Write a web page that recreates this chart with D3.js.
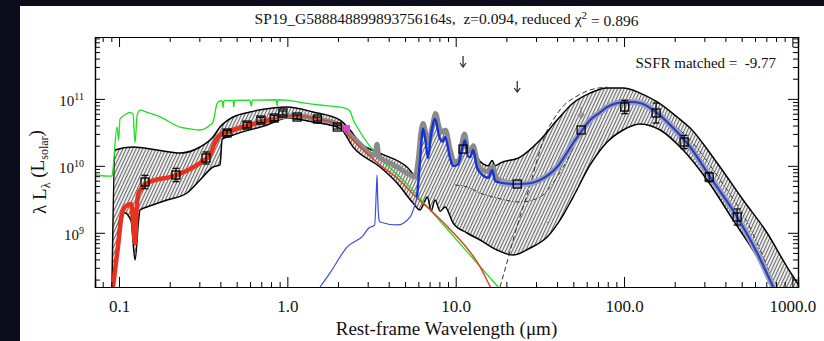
<!DOCTYPE html>
<html>
<head>
<meta charset="utf-8">
<script src="https://cdn.jsdelivr.net/npm/d3@7"></script>
<style>
  html, body { margin: 0; padding: 0; background: #0b0c1c; }
  svg { display: block; }
</style>
</head>
<body>
<div id="chart"></div>
<script>
// axis ranges
const xDomain = [0.072, 1080];
const yDomain = [1.55e8, 8.4e11];
const xMajorTicks = [0.1, 1, 10, 100, 1000];
const xTickLabels = ['0.1', '1.0', '10.0', '100.0', '1000.0'];
const yMajorTicks = [1e9, 1e10, 1e11];
const yTickExponents = ['9', '10', '11'];

// model curves, [wavelength (um), lambda L_lambda (L_sun)]
const unattenuatedStellar = [
  [0.072, 7.3e9], [0.0908, 7.0e9], [0.0921, 9e9], [0.0973, 3.8e10], [0.0995, 2.4e10], [0.1013, 5.0e10],
  [0.1085, 5.8e10], [0.116, 6.3e10], [0.1211, 6.0e10], [0.1245, 2.2e10], [0.128, 5.6e10], [0.1332, 6.8e10],
  [0.1466, 6.3e10], [0.1752, 5.4e10], [0.2303, 3.8e10], [0.26, 3.6e10], [0.3029, 3.43e10], [0.3472, 4.07e10],
  [0.3618, 4.5e10], [0.3822, 8.5e10], [0.398, 9.3e10], [0.41, 9.3e10], [0.415, 7.4e10], [0.42, 9.4e10],
  [0.4757, 9.5e10], [0.48, 7.6e10], [0.486, 9.5e10], [0.6, 9.6e10], [0.61, 7.8e10], [0.62, 9.6e10],
  [0.86, 9.7e10], [0.87, 7.9e10], [0.88, 9.7e10], [0.9956, 9.6e10], [1.19, 8.9e10], [1.564, 8.1e10],
  [2.202, 7.3e10], [2.358, 6.6e10], [2.45, 5.0e10], [2.6, 3.8e10], [5.58, 4.3e9], [17.86, 1.55e8], [22, 8.5e7]
];
const attenuatedStellar = [
  [0.0921, 1.55e8], [0.0985, 6.1e8], [0.1033, 1.72e9], [0.1085, 2.43e9], [0.118, 2.7e9], [0.1211, 1.5e9],
  [0.1245, 7.0e8], [0.127, 2.0e9], [0.1306, 3.9e9], [0.1466, 5.5e9], [0.2211, 7.3e9], [0.3029, 1.1e10],
  [0.3472, 1.45e10], [0.37, 2.2e10], [0.398, 2.9e10], [0.4757, 3.43e10], [0.6003, 4.07e10], [0.822, 5.0e10],
  [0.9956, 5.55e10], [1.19, 5.55e10], [1.5, 5.0e10], [2.056, 4.07e10], [2.358, 2.7e10], [2.817, 1.72e10],
  [3.554, 1.03e10], [4.484, 6.6e9], [5.581, 3.8e9], [8.9, 1.25e9], [13.96, 3.1e8], [16.1, 1.55e8], [20, 7e7]
];
const totalModel = [
  [0.37, 2.2e10], [0.398, 2.9e10], [0.4757, 3.43e10], [0.6003, 4.07e10], [0.822, 5.0e10], [0.9956, 5.55e10],
  [1.19, 5.55e10], [1.5, 5.0e10], [2.056, 4.07e10], [2.358, 2.9e10], [2.817, 1.91e10], [3.1, 1.5e10],
  [3.3, 1.45e10], [3.41, 2.1e10], [3.5, 1.35e10], [4.075, 1.1e10], [4.484, 9.6e9], [5.358, 7.3e9],
  [5.75, 6.8e9], [6.0, 1.3e10], [6.2, 3.0e10], [6.4, 4.3e10], [6.65, 3.0e10], [6.9, 2.2e10], [7.25, 3.8e10],
  [7.6, 6.0e10], [8.0, 3.7e10], [8.35, 3.2e10], [8.7, 3.4e10], [9.3, 1.7e10], [9.8, 1.15e10], [10.5, 1.2e10],
  [10.9, 2.2e10], [11.3, 3.0e10], [11.8, 1.75e10], [12.3, 1.65e10], [12.7, 2.0e10], [13.3, 1.3e10],
  [14.0, 9.0e9], [15.6, 8.2e9], [16.6, 9.8e9], [17.3, 6.8e9], [18.4, 6.0e9], [21.9, 5.5e9], [24, 5.45e9]
];
const dustModel = [
  [1.564, 1.55e8], [1.79, 2.5e8], [2.262, 6.1e8], [2.82, 9.1e8], [3.05, 1.18e9], [3.3, 1.3e9], [3.38, 4.5e9],
  [3.41, 7.3e9], [3.44, 3.5e9], [3.5, 1.6e9], [3.554, 1.45e9], [4.484, 1.31e9], [5.358, 1.72e9], [5.895, 3.42e9],
  [6.143, 1.22e10], [6.4, 3.6e10], [6.6, 2.5e10], [6.85, 1.3e10], [7.14, 2.9e10], [7.54, 5.0e10], [8.0, 2.7e10],
  [8.35, 2.3e10], [8.65, 2.7e10], [9.26, 1.3e10], [9.65, 1.0e10], [10.33, 1.05e10], [10.91, 1.8e10],
  [11.37, 2.4e10], [11.8, 1.4e10], [12.2, 1.35e10], [12.69, 1.72e10], [13.4, 9.3e9], [14.75, 7.0e9],
  [15.6, 6.6e9], [16.46, 8.6e9], [17.14, 6.0e9], [18.35, 5.6e9], [21.93, 5.35e9], [24.13, 5.35e9],
  [27.67, 5.5e9], [31.72, 6.14e9], [40.04, 9.6e9], [49.84, 2.19e10], [54.84, 3.09e10], [62.87, 4.83e10],
  [72.1, 6.3e10], [79.36, 7.56e10], [88.5, 8.5e10], [98.8, 8.98e10], [108.7, 9.0e10], [124.6, 8.68e10],
  [157.3, 6.15e10], [206.8, 3.2e10], [247, 1.91e10], [324.8, 6.81e9], [469.8, 1.72e9], [617.9, 5.0e8],
  [769, 1.55e8], [850, 9e7]
];
const envelopeUpper = [
  [0.0908, 1.55e8], [0.0946, 1.72e10], [0.1211, 1.91e10], [0.1681, 1.72e10], [0.2303, 1.55e10],
  [0.3029, 1.91e10], [0.3618, 2.7e10], [0.398, 3.8e10], [0.4757, 5.36e10], [0.6003, 6.37e10], [0.822, 7.3e10],
  [0.9956, 7.56e10], [1.421, 6.37e10], [2.056, 4.83e10], [2.358, 3.43e10], [2.703, 2.19e10], [3.554, 1.55e10],
  [5.141, 9.6e9], [5.895, 6.8e9], [6.143, 2.0e10], [6.4, 4.36e10], [6.65, 3.2e10], [6.85, 2.2e10],
  [7.2, 4.0e10], [7.54, 6.37e10], [8.0, 3.8e10], [8.35, 3.4e10], [8.65, 3.6e10], [9.3, 1.8e10], [9.8, 1.2e10],
  [10.5, 1.2e10], [10.91, 2.3e10], [11.37, 3.1e10], [11.8, 1.8e10], [12.3, 1.7e10], [12.69, 2.1e10],
  [13.4, 1.35e10], [14.75, 1.05e10], [15.57, 1.0e10], [16.46, 1.2e10], [17.14, 1.0e10], [18.35, 1.1e10],
  [24.13, 1.35e10], [31.72, 2.43e10], [40.04, 4.83e10], [49.84, 8.68e10], [62.87, 1.22e11], [79.36, 1.45e11],
  [98.8, 1.45e11], [124.6, 1.22e11], [157.3, 9.0e10], [206.8, 5.36e10], [247, 3.67e10], [357.4, 1.1e10],
  [510.1, 3.09e9], [708.5, 9.93e8], [931, 3.08e8], [1112, 1.55e8]
];
const envelopeLower = [
  [0.0921, 1.55e8], [0.0985, 8e8], [0.1013, 1.72e9], [0.108, 2.0e9], [0.118, 1.5e9], [0.1245, 3.92e8],
  [0.1306, 1.5e9], [0.1332, 2.19e9], [0.1466, 2.43e9], [0.1928, 3.09e9], [0.2534, 3.93e9], [0.3029, 6.14e9],
  [0.3618, 9.6e9], [0.398, 1.03e10], [0.41, 2.5e10], [0.4757, 2.89e10], [0.7576, 4.07e10], [0.9956, 5.18e10],
  [1.421, 4.51e10], [2.056, 3.67e10], [2.456, 1.91e10], [3.554, 9.6e9], [4.484, 5.53e9], [5.581, 2.78e9],
  [6.143, 2.19e9], [6.4, 2.6e9], [6.8, 3.42e9], [7.14, 2.1e9], [7.54, 3.09e9], [8.08, 2.1e9], [8.65, 2.43e9],
  [9.65, 1.4e9], [11.68, 9.93e8], [13.96, 7.8e8], [17.62, 5.53e8], [21.93, 4.66e8], [27.67, 5.92e8],
  [34.91, 8.65e8], [43.47, 1.84e9], [49.84, 3.42e9], [62.87, 1.03e10], [79.36, 2.27e10], [98.8, 3.43e10],
  [124.6, 4.21e10], [163.9, 3.43e10], [224.4, 1.72e10], [311.6, 6.14e9], [444.9, 1.55e9], [617.9, 4.35e8],
  [769, 1.55e8]
];
const coldDust = [
  [18.35, 1.55e8], [20.2, 3.66e8], [21.93, 7.8e8], [24.8, 2.19e9], [27.67, 5.17e9], [30.45, 1.22e10],
  [33.97, 2.89e10], [37.9, 4.83e10], [43.47, 7.8e10], [51.2, 1.06e11], [62.87, 1.36e11], [79.36, 1.5e11]
];
const warmDust = [
  [9.92, 5.17e9], [11.68, 4.83e9], [13.96, 3.93e9], [17.62, 3.3e9], [24.13, 2.88e9], [31.72, 3.42e9],
  [38.95, 6.14e9], [45.9, 1.22e10], [54.84, 2.89e10], [72.1, 6.37e10], [94.8, 9.62e10], [124.6, 8.98e10],
  [163.9, 5.74e10], [247, 2.43e10], [372.3, 6.14e9], [561.5, 1.18e9], [790, 1.55e8]
];

// photometry
const bandLambda = [0.1427, 0.218, 0.3287, 0.438, 0.576, 0.697, 0.835, 0.94, 1.143, 1.508, 1.98,
  11.06, 23.2, 55.6, 101, 155, 227.5, 320.5, 470];
const bandLum = [5.73e9, 7.3e9, 1.31e10, 3.09e10, 4.07e10, 4.83e10, 5.18e10, 6.15e10, 5.36e10, 5.0e10, 3.8e10,
  1.78e10, 5.35e9, 3.43e10, 7.56e10, 6.15e10, 2.27e10, 6.8e9, 1.72e9];
const bandErrDex = [0.1, 0.1, 0.09, 0.04, 0.04, 0.04, 0.04, 0.03, 0.03, 0.03, 0.03,
  0, 0, 0, 0.1, 0.15, 0.1, 0.07, 0.12];
const limitLambda = [11.06, 23.2, 55.6];
const limitLum = [4.37e11, 1.85e11, 7.56e10];
const limitColor = ['#222', '#222', '#888'];
const kbandExtra = [[2.262, 3.67e10]];

const titleText = 'SP19_G588848899893756164s,  z=0.094, reduced ';
const titleValue = ' = 0.896';
const ssfrText = 'SSFR matched =  -9.77';

const FONT = '"Liberation Serif"';
const width = 824, height = 341;
const margin = { top: 37, right: 26, bottom: 54, left: 95 };
const innerW = width - margin.left - margin.right;
const innerH = height - margin.top - margin.bottom;

const svg = d3.select('#chart').append('svg')
  .attr('width', width)
  .attr('height', height);

svg.append('rect').attr('width', width).attr('height', height).attr('fill', '#0b0c1c');
svg.append('rect').attr('x', 20).attr('y', 6).attr('width', width - 20).attr('height', height - 6).attr('fill', '#fff');

const defs = svg.append('defs');
defs.append('clipPath').attr('id', 'plot-clip')
  .append('rect').attr('width', innerW).attr('height', innerH);
const hatch = defs.append('pattern')
  .attr('id', 'hatch')
  .attr('patternUnits', 'userSpaceOnUse')
  .attr('width', 3).attr('height', 3)
  .attr('patternTransform', 'rotate(25)');
hatch.append('rect').attr('width', 3).attr('height', 3).attr('fill', '#f4f4f4');
hatch.append('line').attr('x1', 0.6).attr('y1', 0).attr('x2', 0.6).attr('y2', 3)
  .attr('stroke', '#5a5a5a').attr('stroke-width', 1);

const chart = svg.append('g')
  .attr('transform', `translate(${margin.left}, ${margin.top})`);

const xScale = d3.scaleLog().domain(xDomain).range([0, innerW]);
const yScale = d3.scaleLog().domain(yDomain).range([innerH, 0]);

const line = d3.line()
  .x(d => xScale(d[0]))
  .y(d => yScale(d[1]))
  .curve(d3.curveMonotoneX);

const plot = chart.append('g').attr('clip-path', 'url(#plot-clip)');

// uncertainty band
const band = envelopeUpper.concat(envelopeLower.slice().reverse());
plot.append('path')
  .attr('d', d3.line().x(d => xScale(d[0])).y(d => yScale(d[1]))(band) + 'Z')
  .attr('fill', 'url(#hatch)')
  .attr('stroke', 'none');

// dust components
plot.append('path').attr('d', line(warmDust))
  .attr('fill', 'none').attr('stroke', '#333').attr('stroke-width', 1)
  .attr('stroke-dasharray', '4,2,1,2');
plot.append('path').attr('d', line(coldDust))
  .attr('fill', 'none').attr('stroke', '#333').attr('stroke-width', 1)
  .attr('stroke-dasharray', '5,3');

// envelope edges
[envelopeUpper, envelopeLower].forEach(edge => {
  plot.append('path').attr('d', line(edge))
    .attr('fill', 'none').attr('stroke', '#000').attr('stroke-width', 1.5);
});

// unattenuated stellar
plot.append('path').attr('d', line(unattenuatedStellar))
  .attr('fill', 'none').attr('stroke', '#1ee01e').attr('stroke-width', 1.3);

// best-fit total
plot.append('path').attr('d', line(totalModel))
  .attr('fill', 'none').attr('stroke', '#8a8a8a').attr('stroke-width', 5)
  .attr('stroke-linejoin', 'round');
plot.append('path').attr('d', line(dustModel.filter(d => d[0] > 18)))
  .attr('fill', 'none').attr('stroke', '#9aa2c8').attr('stroke-width', 6)
  .attr('stroke-linejoin', 'round');

// attenuated stellar
plot.append('path').attr('d', line(attenuatedStellar))
  .attr('fill', 'none').attr('stroke', '#e33a22').attr('stroke-width', 1.4);
plot.append('path').attr('d', line(attenuatedStellar.filter(d => d[0] < 0.95)))
  .attr('fill', 'none').attr('stroke', '#e8321e').attr('stroke-width', 4.5)
  .attr('stroke-linejoin', 'round');

// dust emission
plot.append('path').attr('d', line(dustModel.filter(d => d[0] < 6)))
  .attr('fill', 'none').attr('stroke', '#3a50dc').attr('stroke-width', 1.2);
plot.append('path').attr('d', line(dustModel.filter(d => d[0] > 5.8 && d[0] < 19)))
  .attr('fill', 'none').attr('stroke', '#1432d8').attr('stroke-width', 2.4);
plot.append('path').attr('d', line(dustModel.filter(d => d[0] > 18)))
  .attr('fill', 'none').attr('stroke', '#3040b0').attr('stroke-width', 2.2);

// photometry points
const pts = chart.append('g').attr('class', 'points');
bandLambda.forEach((lam, i) => {
  const cx = xScale(lam), cy = yScale(bandLum[i]);
  const e = bandErrDex[i];
  if (e > 0) {
    const y0 = yScale(bandLum[i] * Math.pow(10, -e));
    const y1 = yScale(bandLum[i] * Math.pow(10, e));
    pts.append('line').attr('x1', cx).attr('x2', cx).attr('y1', y0).attr('y2', y1)
      .attr('stroke', '#000').attr('stroke-width', 1.2);
    [y0, y1].forEach(yy => pts.append('line')
      .attr('x1', cx - 3.5).attr('x2', cx + 3.5).attr('y1', yy).attr('y2', yy)
      .attr('stroke', '#000').attr('stroke-width', 1.2));
  }
  pts.append('rect').attr('x', cx - 4).attr('y', cy - 4).attr('width', 8).attr('height', 8)
    .attr('fill', 'none').attr('stroke', '#000').attr('stroke-width', 1.3);
});
kbandExtra.forEach(d => {
  pts.append('rect').attr('x', xScale(d[0]) - 3).attr('y', yScale(d[1]) - 3)
    .attr('width', 6).attr('height', 6).attr('fill', '#e040e0');
});

// upper limits
limitLambda.forEach((lam, i) => {
  const ax = xScale(lam), ay = yScale(limitLum[i]);
  pts.append('line').attr('x1', ax).attr('x2', ax).attr('y1', ay).attr('y2', ay + 11)
    .attr('stroke', limitColor[i]).attr('stroke-width', 1.2);
  pts.append('path').attr('d', `M${ax - 3},${ay + 7}L${ax},${ay + 11}L${ax + 3},${ay + 7}`)
    .attr('fill', 'none').attr('stroke', limitColor[i]).attr('stroke-width', 1.2);
});

// axes with inward ticks on all sides
const xMinor = xScale.ticks().filter(t => !xMajorTicks.includes(t));
const yMinor = yScale.ticks().filter(t => !yMajorTicks.includes(t));

function styleAxis(g) {
  g.attr('font-family', null).attr('font-size', null);
  g.select('.domain').attr('stroke', '#000').attr('stroke-width', 1.2);
  g.selectAll('.tick line').attr('stroke', '#000').attr('stroke-width', 1);
  g.selectAll('text').style('font-family', FONT).attr('fill', '#111');
}

const xAxis = chart.append('g')
  .attr('transform', `translate(0, ${innerH})`)
  .call(d3.axisBottom(xScale).tickValues(xMajorTicks).tickSize(-10).tickPadding(13)
    .tickFormat((d, i) => xTickLabels[i]))
  .call(styleAxis);
xAxis.selectAll('text').style('font-size', '17px');
chart.append('g').attr('transform', `translate(0, ${innerH})`)
  .call(d3.axisBottom(xScale).tickValues(xMinor).tickSize(-5).tickFormat(''))
  .call(styleAxis);
chart.append('g')
  .call(d3.axisTop(xScale).tickValues(xMajorTicks).tickSize(-10).tickFormat(''))
  .call(styleAxis);
chart.append('g')
  .call(d3.axisTop(xScale).tickValues(xMinor).tickSize(-5).tickFormat(''))
  .call(styleAxis);

const yAxis = chart.append('g')
  .call(d3.axisLeft(yScale).tickValues(yMajorTicks).tickSize(-10).tickFormat(''))
  .call(styleAxis);
yAxis.selectAll('.tick').append('text')
  .attr('x', -11).attr('dy', '0.45em')
  .attr('text-anchor', 'end')
  .style('font-family', FONT)
  .style('font-size', '15px')
  .attr('fill', '#111')
  .each(function(d, i) {
    const t = d3.select(this);
    t.append('tspan').text('10');
    t.append('tspan').attr('dy', '-0.6em').style('font-size', '10px').text(yTickExponents[i]);
  });
chart.append('g')
  .call(d3.axisLeft(yScale).tickValues(yMinor).tickSize(-5).tickFormat(''))
  .call(styleAxis);
chart.append('g').attr('transform', `translate(${innerW}, 0)`)
  .call(d3.axisRight(yScale).tickValues(yMajorTicks).tickSize(-10).tickFormat(''))
  .call(styleAxis);
chart.append('g').attr('transform', `translate(${innerW}, 0)`)
  .call(d3.axisRight(yScale).tickValues(yMinor).tickSize(-5).tickFormat(''))
  .call(styleAxis);

// titles
const title = svg.append('text')
  .attr('x', margin.left + innerW / 2).attr('y', 24)
  .attr('text-anchor', 'middle')
  .attr('fill', '#111')
  .style('font-family', FONT)
  .style('font-size', '15.5px')
  .style('white-space', 'pre');
title.append('tspan').text(titleText);
title.append('tspan').text('\u03c7');
title.append('tspan').attr('dy', '-0.5em').style('font-size', '11px').text('2');
title.append('tspan').attr('dy', '0.5em').text(titleValue);

svg.append('text')
  .attr('x', margin.left + innerW / 2).attr('y', 335)
  .attr('text-anchor', 'middle')
  .attr('fill', '#111')
  .style('font-family', FONT)
  .style('font-size', '19px')
  .text('Rest-frame Wavelength (\u03bcm)');

const yLabel = svg.append('text')
  .attr('transform', `translate(46, ${margin.top + 135}) rotate(-90)`)
  .attr('text-anchor', 'middle')
  .attr('fill', '#111')
  .style('font-family', FONT)
  .style('font-size', '19px');
yLabel.append('tspan').text('\u03bb L');
yLabel.append('tspan').attr('dy', '0.3em').style('font-size', '12px').text('\u03bb');
yLabel.append('tspan').attr('dy', '-0.3em').text(' (L');
yLabel.append('tspan').attr('dy', '0.3em').style('font-size', '12px').text('solar');
yLabel.append('tspan').attr('dy', '-0.3em').text(')');

svg.append('text')
  .attr('x', 776).attr('y', 68)
  .attr('text-anchor', 'end')
  .attr('fill', '#111')
  .style('font-family', FONT)
  .style('font-size', '15px')
  .style('white-space', 'pre')
  .text(ssfrText);
</script>
</body>
</html>
